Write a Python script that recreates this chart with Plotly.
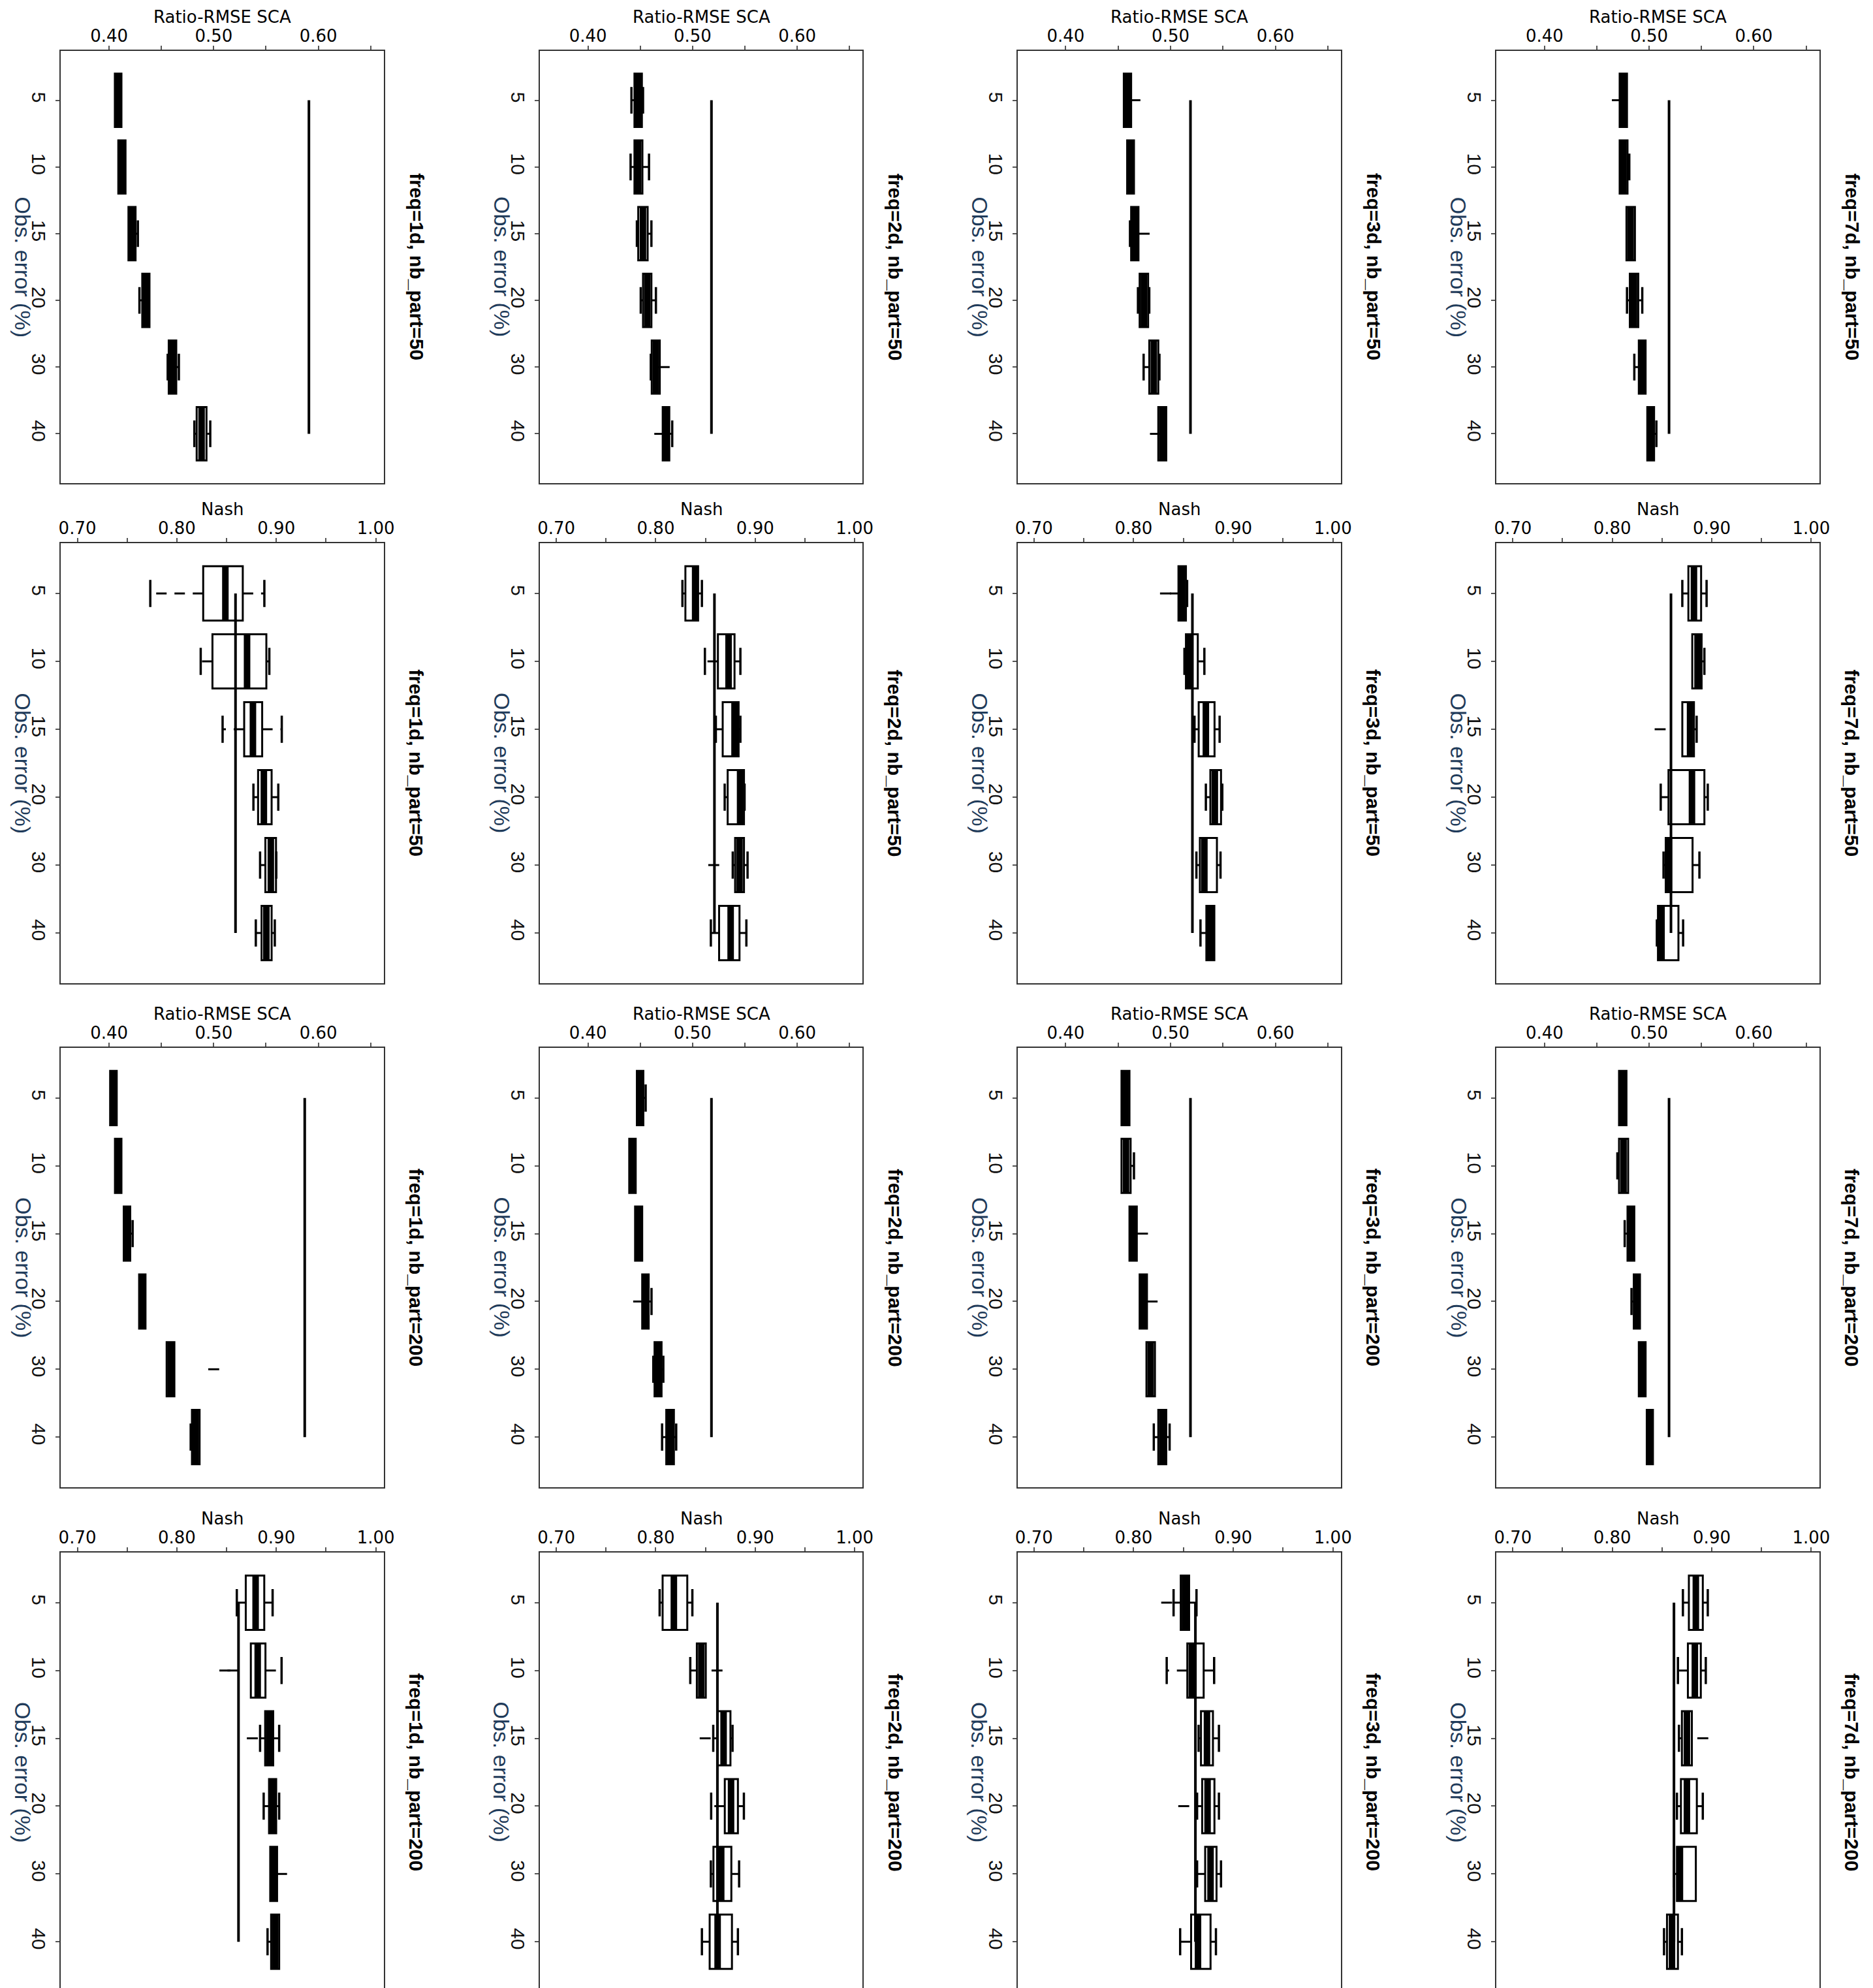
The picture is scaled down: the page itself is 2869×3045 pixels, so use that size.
import plotly.graph_objects as go

# Categories
obs_error = ["5", "10", "15", "20", "30", "40"]
freqs = ["1d", "2d", "3d", "7d"]

# Ratio-RMSE SCA, nb_part=50 (one row per freq, one value per obs. error)
ratio50_low = [[.4055, .4088, .4185, .4290, .4560, .4815],
               [.4415, .4407, .4467, .4504, .4600, .4714],
               [.4554, .4586, .4613, .4689, .4743, .4883],
               [.4718, .4718, .4783, .4788, .4858, .4982]]
ratio50_q1 = [[.4055, .4088, .4185, .4317, .4570, .4837],
              [.4444, .4444, .4480, .4526, .4609, .4714],
              [.4554, .4586, .4624, .4705, .4797, .4883],
              [.4718, .4718, .4783, .4815, .4901, .4982]]
ratio50_med = [[.4087, .4122, .4218, .4352, .4605, .4884],
               [.4480, .4480, .4525, .4566, .4648, .4745],
               [.4589, .4618, .4659, .4745, .4840, .4921],
               [.4753, .4755, .4823, .4855, .4933, .5015]]
ratio50_q3 = [[.4118, .4157, .4253, .4386, .4642, .4931],
              [.4515, .4520, .4570, .4606, .4686, .4777],
              [.4624, .4651, .4694, .4786, .4883, .4959],
              [.4788, .4793, .4864, .4896, .4966, .5047]]
ratio50_high = [[.4118, .4157, .4275, .4386, .4667, .4967],
                [.4526, .4583, .4606, .4649, .4686, .4805],
                [.4624, .4651, .4694, .4797, .4894, .4959],
                [.4788, .4810, .4864, .4934, .4966, .5069]]
ratio50_out = [[],
               [("30", .4728), ("40", .4686)],
               [("5", .4660), ("15", .4748), ("40", .4856)],
               [("5", .4696)]]
ratio50_ref = [.591, .518, .519, .519]

# Nash, nb_part=50
nash50_low = [[.7733, .8240, .8460, .8770, .8837, .8794],
              [.8268, .8494, .8604, .8693, .8774, .8554],
              [.8450, .8510, .8611, .8725, .8630, .8671],
              [.8704, .8804, .8704, .8487, .8515, .8448]]
nash50_q1 = [[.8265, .8358, .8677, .8817, .8890, .8852],
             [.8298, .8625, .8673, .8723, .8798, .8637],
             [.8450, .8525, .8653, .8770, .8665, .8730],
             [.8765, .8804, .8704, .8565, .8537, .8459]]
nash50_med = [[.8488, .8706, .8765, .8875, .8945, .8900],
              [.8396, .8732, .8792, .8848, .8842, .8753],
              [.8486, .8560, .8725, .8815, .8710, .8770],
              [.8821, .8857, .8782, .8801, .8570, .8495]]
nash50_q3 = [[.8663, .8900, .8858, .8953, .8997, .8953],
             [.8426, .8792, .8833, .8887, .8887, .8842],
             [.8525, .8644, .8812, .8877, .8836, .8810],
             [.8893, .8898, .8821, .8926, .8807, .8665]]
nash50_high = [[.8880, .8930, .9055, .9020, .9000, .8985],
               [.8464, .8851, .8851, .8893, .8923, .8911],
               [.8537, .8710, .8863, .8890, .8872, .8810],
               [.8948, .8926, .8848, .8960, .8876, .8712]]
nash50_out = [[],
              [("30", .8583)],
              [("5", .8320), ("5", .8420)],
              [("15", .8481)]]
nash50_ref = [.859, .859, .859, .859]

# Ratio-RMSE SCA, nb_part=200
ratio200_low = [[.4010, .4056, .4140, .4287, .4550, .4780],
                [.4467, .4394, .4450, .4518, .4624, .4708],
                [.4532, .4532, .4608, .4705, .4770, .4840],
                [.4712, .4696, .4766, .4831, .4901, .4977]]
ratio200_q1 = [[.4010, .4056, .4140, .4287, .4550, .4792],
               [.4467, .4394, .4450, .4518, .4636, .4748],
               [.4532, .4532, .4608, .4705, .4770, .4883],
               [.4712, .4712, .4793, .4853, .4901, .4977]]
ratio200_med = [[.4042, .4087, .4171, .4318, .4587, .4828],
                [.4498, .4425, .4484, .4549, .4670, .4785],
                [.4570, .4575, .4643, .4740, .4810, .4921],
                [.4748, .4755, .4825, .4882, .4933, .5006]]
ratio200_q3 = [[.4073, .4118, .4202, .4348, .4624, .4865],
               [.4529, .4456, .4518, .4580, .4703, .4821],
               [.4608, .4619, .4678, .4775, .4851, .4959],
               [.4783, .4799, .4858, .4912, .4966, .5036]]
ratio200_high = [[.4073, .4118, .4225, .4348, .4624, .4865],
                 [.4551, .4456, .4518, .4607, .4720, .4843],
                 [.4608, .4651, .4678, .4775, .4851, .4991],
                 [.4783, .4799, .4858, .4912, .4966, .5036]]
ratio200_out = [[("30", .5000)],
                [("20", .4484)],
                [("15", .4732), ("20", .4824)],
                []]
ratio200_ref = [.587, .518, .519, .519]

# Nash, nb_part=200
nash200_low = [[.8603, .8744, .8837, .8873, .8939, .8912],
               [.8039, .8347, .8578, .8557, .8554, .8464],
               [.8401, .8332, .8652, .8637, .8637, .8467],
               [.8710, .8660, .8670, .8650, .8620, .8520]]
nash200_q1 = [[.8693, .8744, .8888, .8927, .8939, .8948],
              [.8069, .8413, .8622, .8694, .8580, .8542],
              [.8473, .8539, .8676, .8688, .8718, .8577],
              [.8770, .8760, .8700, .8690, .8650, .8550]]
nash200_med = [[.8792, .8813, .8927, .8963, .8972, .8987],
               [.8182, .8458, .8682, .8757, .8658, .8622],
               [.8515, .8584, .8736, .8742, .8772, .8646],
               [.8840, .8830, .8750, .8750, .8680, .8600]]
nash200_q3 = [[.8879, .8891, .8969, .8999, .9008, .9029],
              [.8317, .8503, .8751, .8826, .8760, .8766],
              [.8557, .8703, .8796, .8811, .8832, .8772],
              [.8910, .8890, .8800, .8850, .8840, .8660]]
nash200_high = [[.8963, .9053, .9029, .9029, .9008, .9029],
                [.8368, .8503, .8772, .8886, .8838, .8826],
                [.8631, .8808, .8856, .8856, .8877, .8826],
                [.8960, .8940, .8800, .8910, .8840, .8700]]
nash200_out = [[("10", .8483), ("10", .8564), ("15", .8759), ("30", .9053)],
               [("10", .8616), ("15", .8497)],
               [("5", .8332), ("20", .8503)],
               [("15", .8910)]]
nash200_ref = [.862, .862, .862, .862]

ratio_ticks = [0.40, 0.45, 0.50, 0.55, 0.60, 0.65]
ratio_ticktext = ["0.40", "", "0.50", "", "0.60", ""]
nash_ticks = [0.70, 0.75, 0.80, 0.85, 0.90, 0.95, 1.00]
nash_ticktext = ["0.70", "", "0.80", "", "0.90", "", "1.00"]

W, H = 2869, 3045
col_px = [(82, 580), (821, 1319), (1558, 2057), (2297, 2795)]
row_px = [(70, 732), (824, 1498), (1597, 2270), (2370, 3043)]

rows = [
    ("Ratio-RMSE SCA", 50, ratio50_low, ratio50_q1, ratio50_med, ratio50_q3, ratio50_high, ratio50_out, ratio50_ref),
    ("Nash", 50, nash50_low, nash50_q1, nash50_med, nash50_q3, nash50_high, nash50_out, nash50_ref),
    ("Ratio-RMSE SCA", 200, ratio200_low, ratio200_q1, ratio200_med, ratio200_q3, ratio200_high, ratio200_out, ratio200_ref),
    ("Nash", 200, nash200_low, nash200_q1, nash200_med, nash200_q3, nash200_high, nash200_out, nash200_ref),
]

SANS = "Liberation Sans, Arial, sans-serif"
WIDE = "DejaVu Sans, Verdana, sans-serif"

pos = list(range(1, len(obs_error) + 1))
half_box = 0.4
half_cap = 0.2

fig = go.Figure()
annotations = []
n = 0
for r, (metric, nb, low, q1, med, q3, high, out, ref) in enumerate(rows):
    for c, freq in enumerate(freqs):
        n += 1
        xa = "x" if n == 1 else f"x{n}"
        ya = "y" if n == 1 else f"y{n}"

        # boxes (whiskers drawn separately so they can be dashed)
        fig.add_trace(go.Box(
            y=pos, q1=q1[c], median=med[c], q3=q3[c],
            lowerfence=q1[c], upperfence=q3[c],
            orientation="h", width=0.8, whiskerwidth=0.5,
            fillcolor="white", line=dict(color="black", width=3),
            boxpoints=False, hoverinfo="skip", xaxis=xa, yaxis=ya))

        wx, wy, cx, cy, mx, my = [], [], [], [], [], []
        for i, p in enumerate(pos):
            for edge, end in ((q1[c][i], low[c][i]), (q3[c][i], high[c][i])):
                if end != edge:
                    wx += [edge, end, None]
                    wy += [p, p, None]
                    cx += [end, end, None]
                    cy += [p - half_cap, p + half_cap, None]
            mx += [med[c][i], med[c][i], None]
            my += [p - half_box, p + half_box, None]

        fig.add_trace(go.Scatter(x=wx, y=wy, mode="lines",
                                 line=dict(color="black", width=3, dash="16px,12px"),
                                 hoverinfo="skip", xaxis=xa, yaxis=ya))
        fig.add_trace(go.Scatter(x=cx, y=cy, mode="lines",
                                 line=dict(color="black", width=3.5),
                                 hoverinfo="skip", xaxis=xa, yaxis=ya))
        fig.add_trace(go.Scatter(x=mx, y=my, mode="lines",
                                 line=dict(color="black", width=10),
                                 hoverinfo="skip", xaxis=xa, yaxis=ya))
        if out[c]:
            fig.add_trace(go.Scatter(
                x=[v for _, v in out[c]],
                y=[obs_error.index(k) + 1 for k, _ in out[c]],
                mode="markers",
                marker=dict(symbol="line-ew", size=12, line=dict(color="black", width=3)),
                hoverinfo="skip", xaxis=xa, yaxis=ya))
        # reference line
        fig.add_trace(go.Scatter(x=[ref[c], ref[c]], y=[pos[0], pos[-1]], mode="lines",
                                 line=dict(color="black", width=4),
                                 hoverinfo="skip", xaxis=xa, yaxis=ya))

        is_ratio = metric.startswith("Ratio")
        x0, x1 = col_px[c]
        y0, y1 = row_px[r]
        fig.layout[f"xaxis{'' if n == 1 else n}"] = dict(
            domain=[x0 / W, x1 / W], anchor=ya, side="top",
            range=[0.354, 0.6625] if is_ratio else [0.6835, 1.008],
            tickvals=ratio_ticks if is_ratio else nash_ticks,
            ticktext=ratio_ticktext if is_ratio else nash_ticktext,
            ticks="outside", ticklen=6, tickwidth=2, tickcolor="#555",
            tickfont=dict(family=WIDE, size=26, color="black"),
            ticklabelstandoff=-4,
            showline=True, mirror=True, linecolor="#333", linewidth=2,
            showgrid=False, zeroline=False)
        fig.layout[f"yaxis{'' if n == 1 else n}"] = dict(
            domain=[1 - y1 / H, 1 - y0 / H], anchor=xa,
            range=[6.74, 0.26], tickvals=pos, ticktext=obs_error, tickangle=90,
            ticks="outside", ticklen=6, tickwidth=2, tickcolor="#555",
            tickfont=dict(family=SANS, size=30, color="#111"),
            showline=True, mirror=True, linecolor="#333", linewidth=2,
            showgrid=False, zeroline=False)

        annotations.append(dict(
            text=metric, xref=f"{xa} domain", yref=f"{ya} domain", x=0.5, y=1,
            yshift=36, xanchor="center", yanchor="bottom", showarrow=False, borderpad=0,
            font=dict(family=WIDE, size=26, color="black")))
        annotations.append(dict(
            text="Obs. error (%)", xref=f"{xa} domain", yref=f"{ya} domain", x=0, y=0.5,
            xshift=-58, xanchor="center", yanchor="middle", textangle=90, showarrow=False,
            borderpad=0, font=dict(family=SANS, size=34, color="#1f3b5a")))
        annotations.append(dict(
            text=f"<b>freq={freq}, nb_part={nb}</b>", xref=f"{xa} domain", yref=f"{ya} domain",
            x=1, y=0.5, xshift=50, xanchor="center", yanchor="middle", textangle=90,
            showarrow=False, font=dict(family=SANS, size=30, color="black")))

fig.update_layout(
    width=W, height=H, margin=dict(l=0, r=0, t=0, b=0),
    paper_bgcolor="white", plot_bgcolor="white", showlegend=False,
    annotations=annotations)

fig.write_html("out.html")
